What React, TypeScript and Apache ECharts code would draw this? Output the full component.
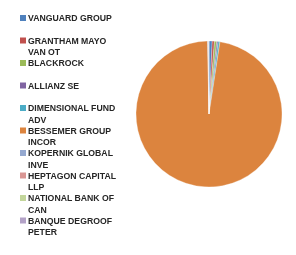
import React, { useEffect, useRef } from "react";
import * as echarts from "echarts";

const categories = [
  "VANGUARD GROUP",
  "GRANTHAM MAYO VAN OT",
  "BLACKROCK",
  "ALLIANZ SE",
  "DIMENSIONAL FUND ADV",
  "BESSEMER GROUP INCOR",
  "KOPERNIK GLOBAL INVE",
  "HEPTAGON CAPITAL LLP",
  "NATIONAL BANK OF CAN",
  "BANQUE DEGROOF PETER",
];
const values = [0.7, 0.5, 0.5, 0.3, 0.4, 97.3, 0.1, 0.08, 0.07, 0.05];
const colors = [
  "#4F81BD",
  "#C0504D",
  "#9BBB59",
  "#8064A2",
  "#4BACC6",
  "#DC843E",
  "#95A9D0",
  "#D99694",
  "#C3D69B",
  "#B3A2C7",
];

const LINE_H = 11.5;
const ITEM_STEP = 22.5;
const MAX_CHARS = 16;

function wrap(name: string): string[] {
  const words = name.split(" ");
  const lines: string[] = [];
  let cur = "";
  for (const w of words) {
    const next = cur ? cur + " " + w : w;
    if (next.length > MAX_CHARS && cur) {
      lines.push(cur);
      cur = w;
    } else {
      cur = next;
    }
  }
  if (cur) lines.push(cur);
  return lines;
}

export default function App() {
  const ref = useRef<HTMLDivElement>(null);
  useEffect(() => {
    if (!ref.current) return;
    const chart = echarts.init(ref.current, undefined, { renderer: "svg" });
    chart.setOption({
      animation: false,
      color: colors,
      legend: {
        orient: "vertical",
        left: 20,
        top: 0.75,
        padding: 0,
        itemWidth: 6,
        itemHeight: 6,
        itemGap: ITEM_STEP - LINE_H * 3,
        icon: "rect",
        selectedMode: false,
        itemStyle: { borderWidth: 0 },
        formatter: (name: string) => {
          const lines = wrap(name);
          return lines.length > 1
            ? "\n" + lines.join("\n")
            : "\n" + lines[0] + "\n";
        },
        textStyle: {
          fontFamily: "Liberation Sans",
          fontWeight: "bold",
          fontSize: 8.7,
          color: "#262626",
          lineHeight: LINE_H,
          padding: [0, 0, 0, -3],
        },
        data: categories,
      },
      series: [
        {
          type: "pie",
          center: [209, 114],
          radius: 73,
          startAngle: 90,
          clockwise: true,
          label: { show: false },
          labelLine: { show: false },
          emphasis: { disabled: true },
          itemStyle: { borderColor: "#ffffff", borderWidth: 0.3 },
          data: categories.map((name, i) => ({ name, value: values[i] })),
        },
      ],
    });
    return () => chart.dispose();
  }, []);
  return (
    <div
      ref={ref}
      style={{ position: "fixed", left: 0, top: 0, width: 296, height: 255 }}
    />
  );
}
